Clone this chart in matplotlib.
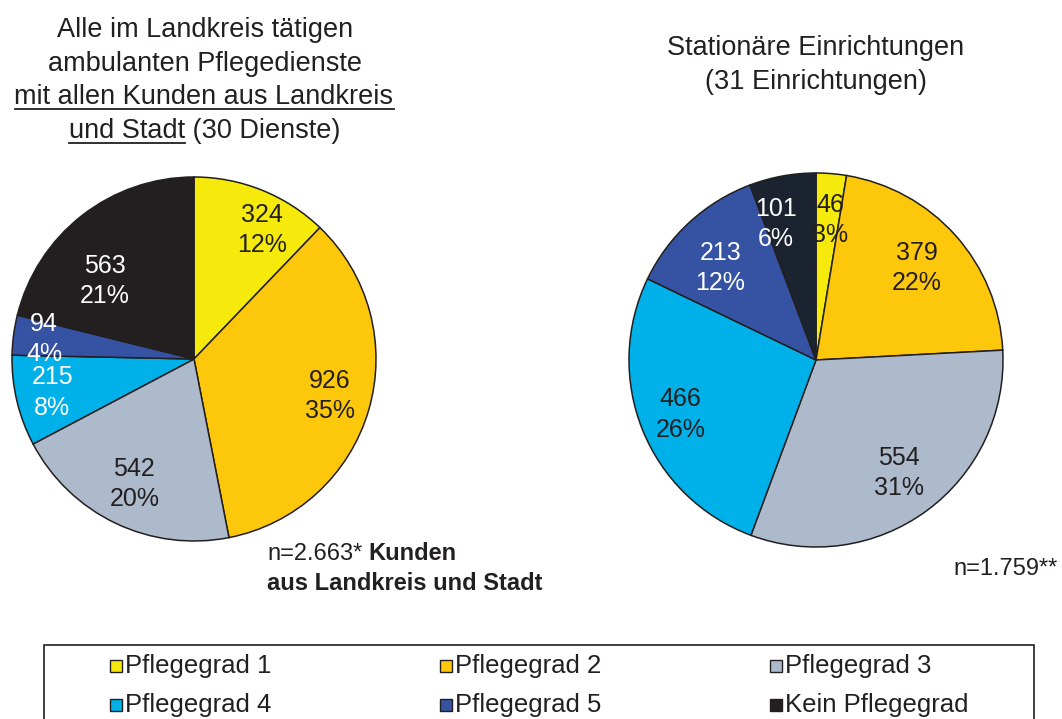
import numpy as np
import matplotlib
matplotlib.use("Agg")
import matplotlib.pyplot as plt
from matplotlib.patches import Rectangle

plt.rcParams['font.family'] = ['Liberation Sans', 'DejaVu Sans']

# data
categories = ['Pflegegrad 1', 'Pflegegrad 2', 'Pflegegrad 3',
              'Pflegegrad 4', 'Pflegegrad 5', 'Kein Pflegegrad']
ambulant = [324, 926, 542, 215, 94, 563]
ambulant_pct = ['12%', '35%', '20%', '8%', '4%', '21%']
stationaer = [46, 379, 554, 466, 213, 101]
stationaer_pct = ['3%', '22%', '31%', '26%', '12%', '6%']

colors_left = ['#f6ea0c', '#fdc70c', '#adbacc', '#00b1e9', '#3552a3', '#231f20']
colors_right = ['#f6ea0c', '#fdc70c', '#adbacc', '#00b1e9', '#3552a3', '#1b2330']
dark = '#231f20'

# label placement (radius, angle shift in degrees)
left_r = [0.80, 0.775, 0.76, 0.80, 0.83, 0.65]
left_da = [-6, 1, 0, 0, 0, 11]
left_tc = [dark, dark, dark, 'white', 'white', 'white']
right_r = [0.75, 0.73, 0.75, 0.78, 0.71, 0.76]
right_da = [-1, 0.5, 0, 0, 3.5, 6]
right_tc = [dark, dark, dark, dark, 'white', 'white']

W, H = 1062, 719
fig = plt.figure(figsize=(W / 100, H / 100), dpi=100)

# overlay axes in pixel coordinates
ov = fig.add_axes([0, 0, 1, 1])
ov.set_xlim(0, W)
ov.set_ylim(H, 0)
ov.axis('off')


def draw_pie(cx, cy, r, values, pcts, colors, radii, dangs, tcolors):
    ax = fig.add_axes([(cx - r) / W, 1 - (cy + r) / H, 2 * r / W, 2 * r / H])
    wedges, _ = ax.pie(values, colors=colors, startangle=90, counterclock=False,
                       wedgeprops=dict(edgecolor=dark, linewidth=1.1))
    for w in wedges:
        w.set_clip_on(False)
    ax.set_xlim(-1, 1)
    ax.set_ylim(-1, 1)
    ax.axis('off')
    for w, v, p, rr, da, tc in zip(wedges, values, pcts, radii, dangs, tcolors):
        ang = np.deg2rad((w.theta1 + w.theta2) / 2 + da)
        ax.text(rr * np.cos(ang), rr * np.sin(ang), f'{v}\n{p}', ha='center',
                va='center', fontsize=18, color=tc, linespacing=1.32)
    return ax


draw_pie(194, 359, 182, ambulant, ambulant_pct, colors_left, left_r, left_da, left_tc)
draw_pie(816, 360, 187, stationaer, stationaer_pct, colors_right, right_r, right_da, right_tc)

# titles
tfs = 19.5
ov.text(205, 37, 'Alle im Landkreis tätigen', ha='center', va='baseline', fontsize=tfs, color=dark)
ov.text(205, 71, 'ambulanten Pflegedienste', ha='center', va='baseline', fontsize=tfs, color=dark)
t3 = ov.text(204, 104, 'mit allen Kunden aus Landkreis', ha='center', va='baseline', fontsize=tfs, color=dark)
t4 = ov.text(205, 138, 'und Stadt (30 Dienste)', ha='center', va='baseline', fontsize=tfs, color=dark)
ov.text(816, 55, 'Stationäre Einrichtungen', ha='center', va='baseline', fontsize=tfs, color=dark)
ov.text(816, 89, '(31 Einrichtungen)', ha='center', va='baseline', fontsize=tfs, color=dark)

# n annotations
n1 = ov.text(267, 560, 'n=2.663*', ha='left', va='baseline', fontsize=17, color=dark)
ov.text(267, 590, 'aus Landkreis und Stadt', ha='left', va='baseline', fontsize=17,
        color=dark, fontweight='bold')
ov.text(1058, 575, 'n=1.759**', ha='right', va='baseline', fontsize=17, color=dark)

# underlines and bold word need measured text extents
fig.canvas.draw()
rend = fig.canvas.get_renderer()
inv = ov.transData.inverted()


def xspan(t):
    bb = t.get_window_extent(rend)
    (x0, _), (x1, _) = inv.transform([(bb.x0, bb.y0), (bb.x1, bb.y1)])
    return x0, x1


a, b = xspan(t3)
ov.plot([a, b], [109, 109], color=dark, lw=1.3)
a, b = xspan(t4)
tmp = ov.text(0, 0, 'und Stadt', fontsize=tfs)
wa, wb = xspan(tmp)
tmp.remove()
ov.plot([a, a + (wb - wa)], [143, 143], color=dark, lw=1.3)
a, b = xspan(n1)
ov.text(b + 6, 560, 'Kunden', ha='left', va='baseline', fontsize=17, color=dark,
        fontweight='bold')

# legend box
ov.add_patch(Rectangle((44, 645), 990, 80, facecolor='white', edgecolor=dark, lw=1.2,
                       clip_on=False))
col_x = [110, 440, 770]
row_y = [666, 705]
for i, (cat, c) in enumerate(zip(categories, colors_left)):
    x = col_x[i % 3]
    y = row_y[i // 3]
    ov.add_patch(Rectangle((x, y - 6), 12, 12, facecolor=c, edgecolor=dark, lw=1))
    ov.text(x + 15, y, cat, ha='left', va='center', fontsize=18.5, color=dark)

fig.savefig('out.png', dpi=100)
